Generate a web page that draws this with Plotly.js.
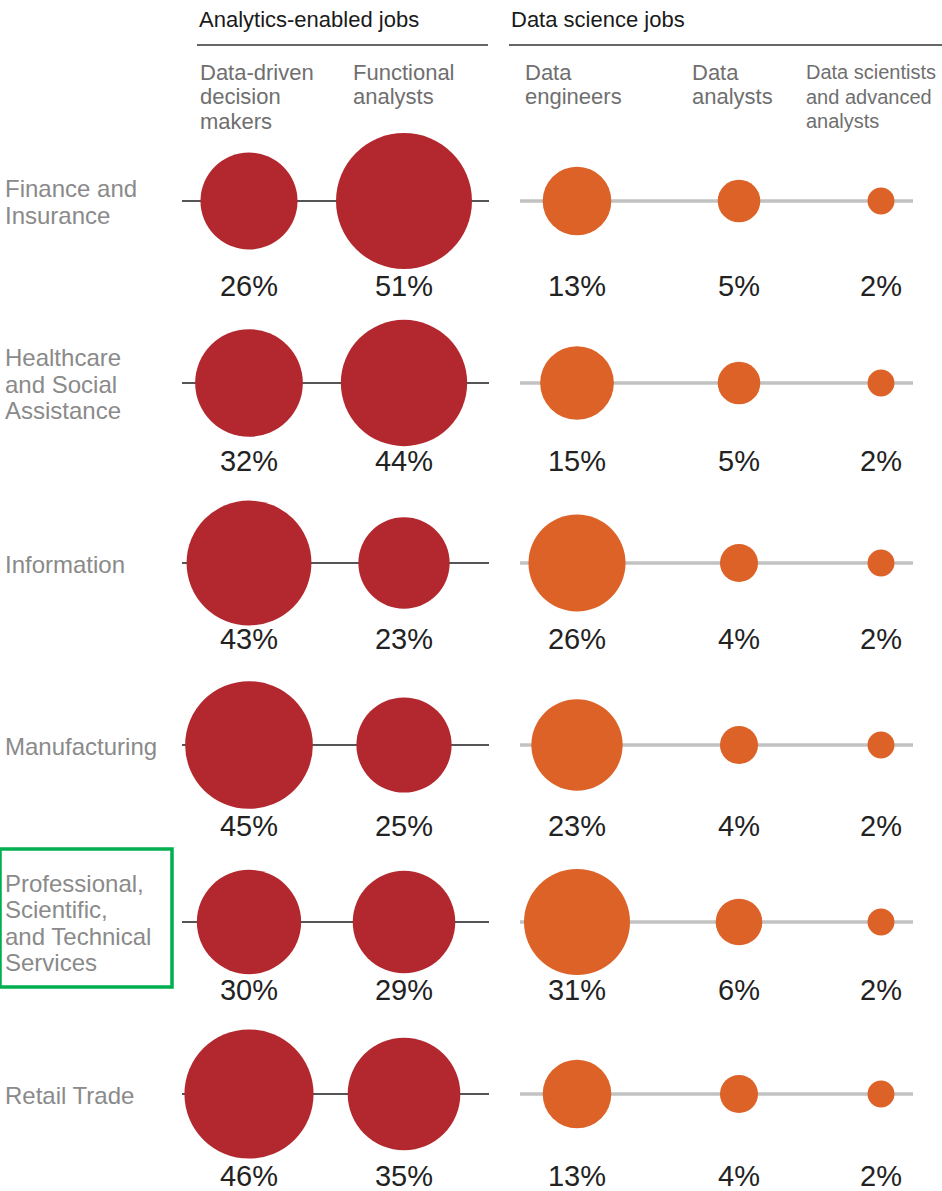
<!DOCTYPE html>
<html>
<head>
<meta charset="utf-8">
<script src="https://cdn.plot.ly/plotly-3.0.1.min.js"></script>
<style>html,body{margin:0;padding:0;background:#fff;}#chart{width:942px;height:1191px;}</style>
</head>
<body>
<div id="chart"></div>
<script>
// ---------- DATA ----------
const industries = [
  "Finance and<br>Insurance",
  "Healthcare<br>and Social<br>Assistance",
  "Information",
  "Manufacturing",
  "Professional,<br>Scientific,<br>and Technical<br>Services",
  "Retail Trade"
];
const groups = ["Analytics-enabled jobs", "Data science jobs"];
const jobTypes = [
  "Data-driven<br>decision<br>makers",
  "Functional<br>analysts",
  "Data<br>engineers",
  "Data<br>analysts",
  "Data scientists<br>and advanced<br>analysts"
];
const jobGroup = [0, 0, 1, 1, 1];
const dataDrivenDecisionMakers = [26, 32, 43, 45, 30, 46];
const functionalAnalysts       = [51, 44, 23, 25, 29, 35];
const dataEngineers            = [13, 15, 26, 23, 31, 13];
const dataAnalysts             = [5, 5, 4, 4, 6, 4];
const dataScientists           = [2, 2, 2, 2, 2, 2];
const highlighted = "Professional,<br>Scientific,<br>and Technical<br>Services";

// ---------- LAYOUT CONSTANTS ----------
const series = [dataDrivenDecisionMakers, functionalAnalysts, dataEngineers, dataAnalysts, dataScientists];
const colX = [249, 404, 577, 739, 881];
const rowY = [201, 383, 563, 745, 922, 1094];
const labelY = [289, 464, 642, 829, 993, 1179];
const groupColor = ["#B3282E", "#DD6228"];
const sizeScale = 19.04; // diameter px per sqrt(percent)
const FONT = "Liberation Sans, Arial, sans-serif";

const traces = [];
// connector lines
rowY.forEach(y => {
  traces.push({x: [182, 489], y: [y, y], mode: "lines", line: {color: "#555", width: 2}, hoverinfo: "skip", showlegend: false});
  traces.push({x: [520, 913], y: [y, y], mode: "lines", line: {color: "#c2c2c2", width: 3.5}, hoverinfo: "skip", showlegend: false});
});
// bubbles
series.forEach((vals, j) => {
  traces.push({
    x: vals.map(() => colX[j]),
    y: rowY,
    mode: "markers",
    marker: {size: vals.map(v => sizeScale * Math.sqrt(v)), sizemode: "diameter", color: groupColor[jobGroup[j]], line: {width: 0}, opacity: 1},
    hoverinfo: "skip", showlegend: false
  });
  traces.push({
    x: vals.map(() => colX[j]),
    y: labelY,
    mode: "text",
    text: vals.map(v => v + "%"),
    textposition: "middle center",
    textfont: {family: FONT, size: 29, color: "#222"},
    hoverinfo: "skip", showlegend: false
  });
});

const annotations = [];
const shapes = [];
// group headers
const groupX = [197, 509];
groups.forEach((g, i) => {
  annotations.push({x: groupX[i], y: 19, xref: "x", yref: "y", text: g, showarrow: false, xanchor: "left", yanchor: "middle",
    font: {family: FONT, size: 22, color: "#1a1a1a"}});
});
shapes.push({type: "line", x0: 197, x1: 488, y0: 45, y1: 45, xref: "x", yref: "y", line: {color: "#333", width: 1.5}});
shapes.push({type: "line", x0: 509, x1: 942, y0: 45, y1: 45, xref: "x", yref: "y", line: {color: "#333", width: 1.5}});
// sub headers
const subX = [198, 351, 523, 690, 804];
const subSize = [22, 22, 22, 22, 20];
jobTypes.forEach((t, j) => {
  t.split("<br>").forEach((line, k) => {
    annotations.push({x: subX[j], y: 72 + k * 24.5, xref: "x", yref: "y", text: line, showarrow: false, xanchor: "left", yanchor: "middle",
      font: {family: FONT, size: subSize[j], color: "#6f6f6f"}});
  });
});
// row labels
industries.forEach((t, i) => {
  const lines = t.split("<br>");
  const lh = 26.5;
  const top = rowY[i] - (lines.length - 1) * lh / 2;
  lines.forEach((line, k) => {
    annotations.push({x: 3, y: top + k * lh + 1, xref: "x", yref: "y", text: line, showarrow: false, xanchor: "left", yanchor: "middle",
      font: {family: FONT, size: 24, color: "#8a8a8a"}});
  });
  if (t === highlighted) {
    shapes.push({type: "rect", x0: 0, x1: 172, y0: rowY[i] - 73, y1: rowY[i] + 65, xref: "x", yref: "y", line: {color: "#00B050", width: 3.5}});
  }
});

const layout = {
  width: 942, height: 1191,
  margin: {l: 0, r: 0, t: 0, b: 0},
  paper_bgcolor: "#fff", plot_bgcolor: "#fff",
  xaxis: {range: [0, 942], visible: false, fixedrange: true},
  yaxis: {range: [1191, 0], visible: false, fixedrange: true},
  annotations: annotations,
  shapes: shapes,
  showlegend: false
};
Plotly.newPlot("chart", traces, layout, {displayModeBar: false, staticPlot: true});
</script>
</body>
</html>
